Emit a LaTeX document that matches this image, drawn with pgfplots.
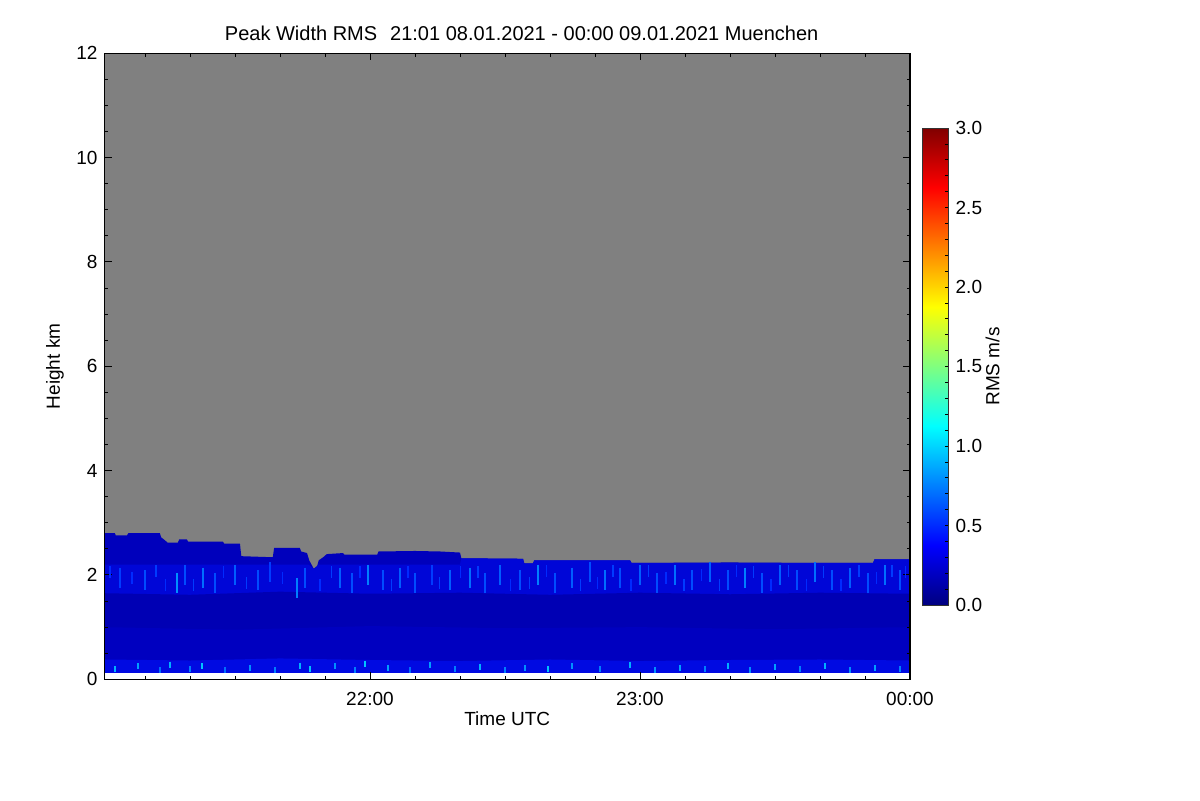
\documentclass[border=0pt]{standalone}
\usepackage{fontspec}
\setmainfont{Liberation Sans}
\usepackage{pgfplots}
\pgfplotsset{compat=1.18}
\definecolor{bggray}{RGB}{128,128,128}
\definecolor{bandD}{RGB}{0,0,188}
\definecolor{bandC}{RGB}{0,6,215}
\definecolor{bandB}{RGB}{0,0,180}
\definecolor{bandBb}{RGB}{0,0,192}
\definecolor{bandA}{RGB}{0,10,226}

\pgfplotstableread{
m h v
4.4 1.95 0.55
10 1.90 0.60
17.1 1.85 0.80
18.9 2.00 0.60
22.9 1.95 0.70
25.6 1.85 0.60
30 2.00 0.65
35.1 1.90 0.60
37.8 2.05 0.55
43.8 1.75 0.75
45.6 1.95 0.60
53.3 1.95 0.65
56 1.85 0.60
59.6 2.00 0.75
62.9 1.90 0.60
66.7 1.95 0.65
70 1.85 0.60
73.8 2.00 0.55
77.8 1.90 0.65
82.2 1.95 0.70
85.6 1.85 0.60
88.9 2.00 0.65
93.3 1.90 0.60
97.3 2.00 0.75
101.1 1.85 0.60
104.9 1.95 0.65
108.9 2.05 0.60
112.2 1.90 0.70
115.6 1.95 0.60
120 2.00 0.65
123.8 1.85 0.60
127.8 2.00 0.70
131.6 1.90 0.60
135.6 2.05 0.65
139.6 1.90 0.60
143.3 1.95 0.75
147.1 1.85 0.60
151.1 2.00 0.65
154.9 1.90 0.60
158.9 2.05 0.70
162.7 1.90 0.60
166.7 1.95 0.65
170.7 1.85 0.60
174.4 2.00 0.70
177.8 1.90 0.60
}\streaks

\pgfplotstableread{
m h v
2.2 2.05 0.50
7.1 1.95 0.50
12.4 2.08 0.55
14.6 1.80 0.50
20.8 1.80 0.55
27.5 2.05 0.50
32.6 1.85 0.55
40.5 1.95 0.50
48.9 1.80 0.50
51.4 2.05 0.55
57.8 2.05 0.50
64.8 1.80 0.55
68.4 2.05 0.50
75.5 1.85 0.55
80.1 2.05 0.50
84 2.05 0.55
91.2 1.80 0.50
95.5 1.85 0.55
99.2 2.08 0.50
106.8 1.80 0.55
110.5 1.85 0.50
114 2.08 0.55
118 1.80 0.50
121.9 2.08 0.55
125.8 1.95 0.50
129.8 1.80 0.55
133.6 2.00 0.50
137.6 1.80 0.55
141.5 2.08 0.50
145.2 2.05 0.55
149.1 1.80 0.50
153 2.08 0.55
157 1.80 0.50
160.8 2.05 0.55
164.7 1.80 0.50
168.7 2.08 0.55
172.5 1.95 0.50
176 2.08 0.55
179 2.05 0.50
}\streaksb

\pgfplotstableread{
m h v
3.3 0.20 0.90
8.4 0.25 0.85
13.3 0.18 0.70
15.6 0.28 0.90
20 0.20 0.75
22.7 0.25 0.95
27.8 0.18 0.70
33.3 0.22 0.80
38.9 0.17 0.75
44.4 0.26 0.90
46.7 0.20 0.95
52.2 0.25 0.80
56.7 0.18 0.75
58.9 0.30 0.95
64 0.22 0.85
68.9 0.18 0.70
73.3 0.27 0.85
78.9 0.20 0.75
84.4 0.24 0.90
90 0.17 0.75
94.4 0.22 0.80
99.6 0.19 0.95
104.9 0.25 0.80
111.1 0.20 0.75
117.8 0.27 0.90
123.3 0.17 0.80
128.9 0.22 0.85
134.4 0.20 0.75
139.6 0.26 0.90
144.4 0.18 0.80
150 0.23 0.85
155.6 0.20 0.75
161.1 0.25 0.90
166.7 0.18 0.80
172.2 0.22 0.85
177.8 0.20 0.75
}\specks

\begin{document}
\begin{tikzpicture}
\useasboundingbox (0,0) rectangle (600pt,400pt);
\begin{axis}[
  at={(52.25pt,60.35pt)}, anchor=south west,
  scale only axis, width=402.75pt, height=313pt,
  xmin=1, xmax=180, ymin=0, ymax=12,
  font=\fontsize{9.5}{11}\selectfont,
  /pgf/number format/assume math mode=true,
  axis background/.style={fill=bggray},
  axis on top,
  xtick={60,120,180}, xticklabels={22:00,23:00,00:00},
  minor xtick={10,20,...,170},
  ytick={0,2,...,12}, minor ytick={0.5,1,...,11.5},
  tick pos=both, tick align=inside,
  major tick length=3.5pt, minor tick length=1.75pt,
  every tick/.style={black, line width=0.5pt},
  axis line style={black, line width=0.6pt},
  xticklabel style={anchor=center, yshift=-10pt},
  xlabel={Time UTC}, ylabel={Height km},
  xlabel style={at={(rel axis cs:0.5,0)}, anchor=center, yshift=-19.85pt},
  ylabel style={at={(rel axis cs:0,0.5)}, anchor=center, yshift=24.75pt},
  title={Peak Width RMS\hspace{6.5pt}21:01 08.01.2021 - 00:00 09.01.2021 Muenchen},
  title style={at={(rel axis cs:0.5,1)}, anchor=center, yshift=4pt, xshift=7.2pt,
    font=\fontsize{10}{12}\selectfont},
  colormap/jet, point meta min=0, point meta max=3,
  colorbar,
  colorbar shift/.style={xshift=6.3pt, yshift=37.15pt},
  colorbar style={
    at={(parent axis.south east)}, anchor=south west,
    scale only axis, width=13pt, height=238.5pt,
    ymin=0, ymax=3,
    ytick={0,0.5,...,3},
    minor ytick={0.1,0.2,...,2.9},
    yticklabel style={/pgf/number format/.cd, fixed, fixed zerofill, precision=1},
    /pgf/number format/assume math mode=true,
    font=\fontsize{9.5}{11}\selectfont,
    ytick pos=right, tick align=inside,
    major tick length=2pt, minor tick length=2pt,
    every tick/.style={black, line width=0.4pt},
    axis line style={black!80, line width=0.5pt},
    ylabel={RMS m/s},
    ylabel style={at={(rel axis cs:1,0.5)}, anchor=center, yshift=-22pt},
  },
]
\addplot[draw=none, fill=bandD] coordinates {
(1,2.80) (3.3,2.80) (3.5,2.76) (6,2.76) (6.3,2.80) (13.3,2.80) (13.6,2.72)
(14.5,2.66) (15,2.62) (17.3,2.62) (17.6,2.68) (19.3,2.68) (19.6,2.64)
(27.3,2.64) (27.6,2.60) (31.1,2.60) (31.4,2.36) (38.4,2.34) (38.7,2.52)
(44.4,2.52) (44.7,2.45) (46,2.42) (46.5,2.28) (47.5,2.12) (48.2,2.15)
(48.6,2.28) (49.6,2.34) (50.4,2.40) (54,2.42) (54.3,2.39) (61.6,2.39)
(61.9,2.45) (70,2.46) (75.6,2.45) (80,2.43) (80.3,2.32) (94,2.31)
(94.3,2.22) (96.2,2.22) (96.5,2.28) (117.8,2.28) (118.1,2.23) (140,2.24)
(160,2.23) (171.8,2.23) (172.1,2.30) (180,2.30)
} \closedcycle;
\addplot[draw=none, fill=bandC] coordinates {
(1,2.2) (46.3,2.2) (47.5,2.12) (48.3,2.18) (48.6,2.2) (80,2.2) (80.3,2.32)
(94,2.31) (94.3,2.22) (96.2,2.22) (96.5,2.28) (117.8,2.28) (118.1,2.23)
(171.8,2.23) (172.1,2.30) (180,2.30)
} \closedcycle;
\addplot[draw=none, fill=bandB] coordinates {
(1,1.65) (20,1.62) (40,1.68) (60,1.64) (80,1.66) (100,1.62) (120,1.66)
(140,1.63) (160,1.66) (180,1.64)
} \closedcycle;
\addplot[draw=none, fill=bandBb] coordinates {
(1,1.0) (30,0.95) (60,1.02) (90,0.98) (120,1.0) (150,0.96) (180,1.0)
} \closedcycle;
\addplot[draw=none, fill=bandA] coordinates {
(1,0.38) (20,0.36) (40,0.40) (60,0.37) (80,0.35) (100,0.38) (120,0.35)
(140,0.37) (160,0.38) (180,0.36)
} \closedcycle;
\addplot[draw=none, fill=white] coordinates {(1,0.115) (180,0.115)} \closedcycle;
\addplot[scatter, only marks, mark=|, mark size=5pt, mark options={line width=0.8pt},
  point meta=explicit,
  scatter/use mapped color={draw=mapped color, fill=mapped color}]
  table[x=m, y=h, meta=v] {\streaks};
\addplot[scatter, only marks, mark=|, mark size=3pt, mark options={line width=0.7pt},
  point meta=explicit,
  scatter/use mapped color={draw=mapped color, fill=mapped color}]
  table[x=m, y=h, meta=v] {\streaksb};
\addplot[scatter, only marks, mark=|, mark size=1.5pt, mark options={line width=1pt},
  point meta=explicit,
  scatter/use mapped color={draw=mapped color, fill=mapped color}]
  table[x=m, y=h, meta=v] {\specks};
\end{axis}
\end{tikzpicture}
\end{document}
